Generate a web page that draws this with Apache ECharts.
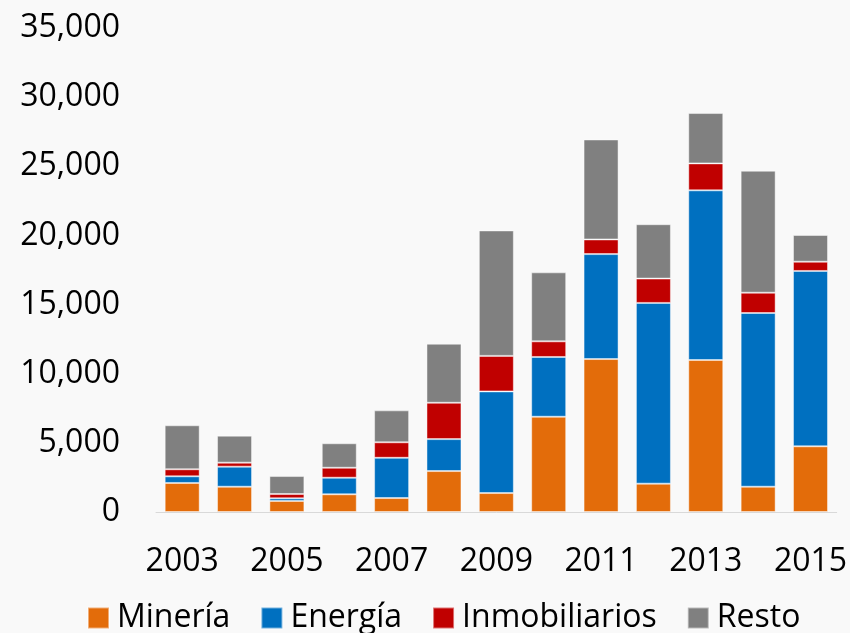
<!DOCTYPE html>
<html>
<head>
<meta charset="utf-8">
<title>Inversión por sector</title>
<script src="https://cdn.jsdelivr.net/npm/echarts@6/dist/echarts.min.js"></script>
<style>
  html, body { margin: 0; padding: 0; background: #f9f9f9; }
  #main { width: 850px; height: 633px; }
</style>
</head>
<body>
<div id="main"></div>
<script>
    // valores
    let years = ['2003', '2004', '2005', '2006', '2007', '2008', '2009', '2010', '2011', '2012', '2013', '2014', '2015'];
    let mineria = [2100, 1830, 800, 1280, 1010, 2960, 1370, 6890, 11060, 2050, 10990, 1830, 4750];
    let energia = [480, 1450, 190, 1200, 2910, 2310, 7350, 4320, 7590, 13070, 12270, 12560, 12680];
    let inmobiliarios = [510, 290, 310, 720, 1120, 2630, 2570, 1130, 1060, 1760, 1950, 1470, 670];
    let resto = [3180, 1950, 1300, 1770, 2310, 4270, 9070, 4990, 7230, 3930, 3640, 8820, 1930];
    let yTicks = [0, 5000, 10000, 15000, 20000, 25000, 30000, 35000];

    let font = "'Open Sans', 'Noto Sans', sans-serif";

    function makeBar(name, data, color) {
        return {
            type: 'bar',
            name: name,
            stack: 'total',
            data: data,
            barWidth: 35,
            itemStyle: {
                color: color,
                borderColor: 'rgba(255,255,255,0.45)',
                borderWidth: 1
            }
        };
    }

    let myChart = echarts.init(document.getElementById('main'));
    myChart.setOption({
        backgroundColor: '#f9f9f9',
        animation: false,
        grid: {
            left: 156,
            right: 11,
            top: 28,
            bottom: 121
        },
        legend: {
            data: ['Minería', 'Energía', 'Inmobiliarios', 'Resto'],
            left: 82,
            top: 597,
            icon: 'rect',
            itemWidth: 21,
            itemHeight: 21,
            itemGap: 30,
            textStyle: {
                fontFamily: font,
                fontSize: 32,
                color: '#000',
                padding: [0, 0, 0, 3]
            }
        },
        xAxis: {
            type: 'category',
            data: years,
            axisLine: { lineStyle: { color: '#d9d9d9', width: 1 } },
            axisTick: { show: false },
            axisLabel: {
                interval: 1,
                margin: 34,
                fontFamily: font,
                fontSize: 32,
                color: '#000'
            }
        },
        yAxis: {
            type: 'value',
            min: yTicks[0],
            max: yTicks[yTicks.length - 1],
            interval: yTicks[1] - yTicks[0],
            splitLine: { show: false },
            axisLine: { show: false },
            axisTick: { show: false },
            axisLabel: {
                margin: 36,
                padding: [5, 0, 0, 0],
                fontFamily: font,
                fontSize: 32,
                color: '#000',
                formatter: function (v) {
                    return String(v).replace(/\B(?=(\d{3})+(?!\d))/g, ',');
                }
            }
        },
        series: [
            makeBar('Minería', mineria, '#e36c0a'),
            makeBar('Energía', energia, '#0070c0'),
            makeBar('Inmobiliarios', inmobiliarios, '#c00000'),
            makeBar('Resto', resto, '#808080')
        ]
    });
</script>
</body>
</html>
